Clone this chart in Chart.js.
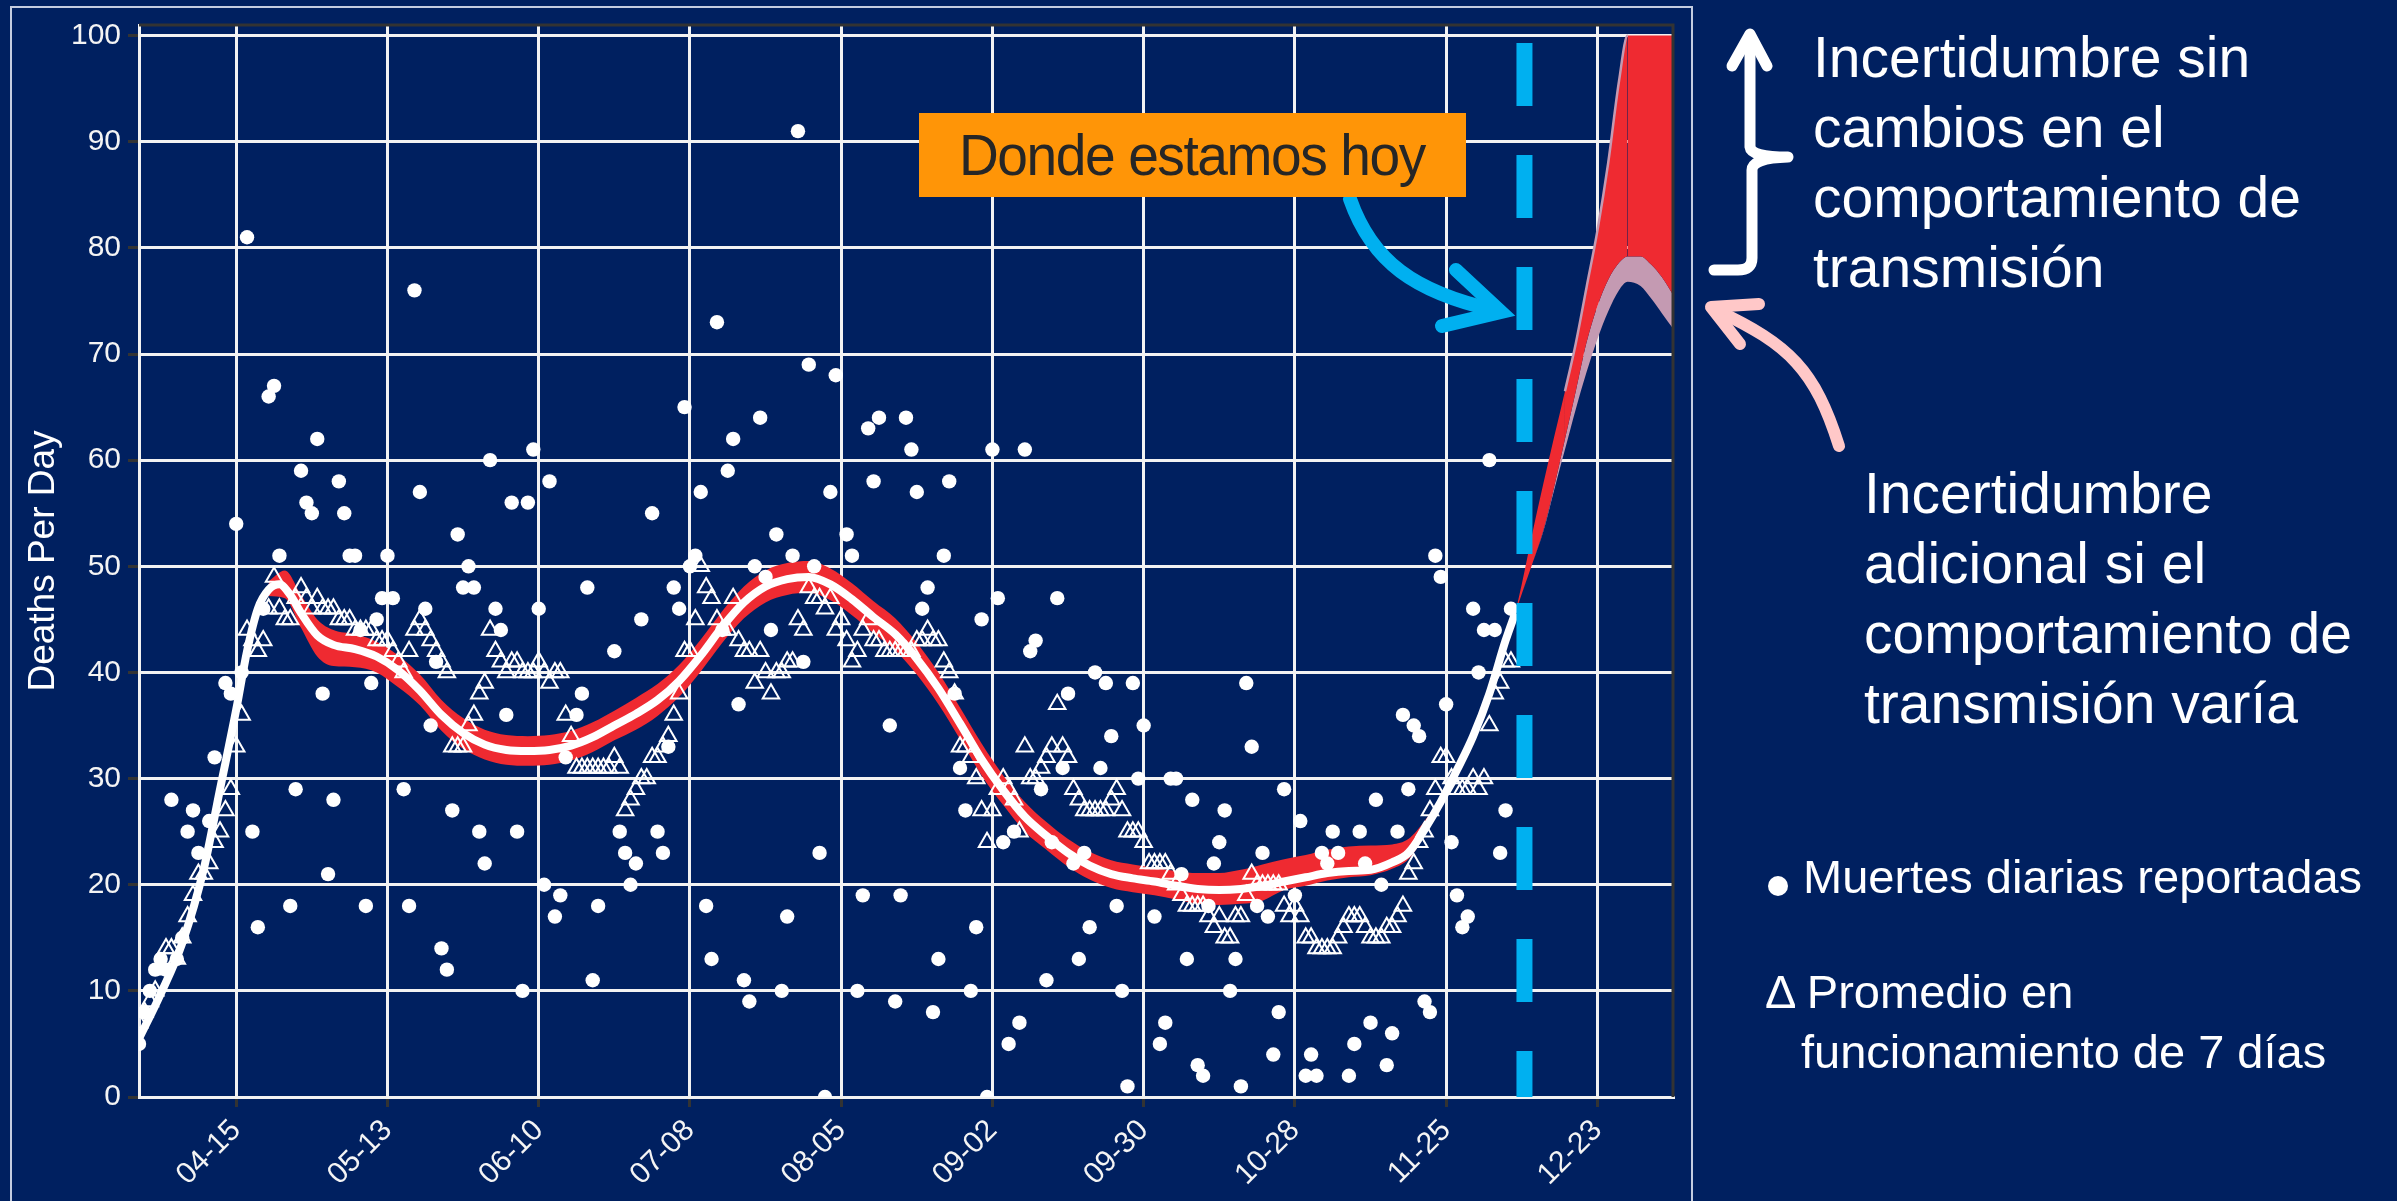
<!DOCTYPE html>
<html>
<head>
<meta charset="utf-8">
<script src="https://cdn.jsdelivr.net/npm/chart.js@4.4.1/dist/chart.umd.min.js"></script>
<style>
  body { margin: 0; background: #002060; }
  #wrap { position: relative; width: 2397px; height: 1201px; overflow: hidden; background: #002060;
          font-family: "Liberation Sans", Arial, sans-serif; color: #ffffff; }
  #frame { position: absolute; left: 10px; top: 6px; width: 1679px; height: 1400px; border: 2px solid #c4cce0; }
  #chartBox { position: absolute; left: 0; top: 0; width: 2397px; height: 1201px; }
  .note { position: absolute; white-space: nowrap; }
  .big { font-size: 57px; line-height: 70px; }
  .legend { font-size: 47px; line-height: 56px; }
  #today { position: absolute; left: 919px; top: 113px; width: 547px; height: 84px; background: #ff9507; }
  #today span { position: absolute; left: 40px; top: 0; line-height: 84px; font-size: 58px; color: #262626;
                letter-spacing: -1.5px; white-space: nowrap; transform: scaleX(0.95); transform-origin: 0 50%; }
</style>
</head>
<body>
<div id="wrap">
  <div id="frame"></div>
  <div id="chartBox"><canvas id="deathsChart"></canvas></div>
  <div id="today"><span>Donde estamos hoy</span></div>
  <div class="note big" style="left:1813px; top:22px;">Incertidumbre sin<br>cambios en el<br>comportamiento de<br>transmisión</div>
  <div class="note big" style="left:1864px; top:458px;">Incertidumbre<br>adicional si el<br>comportamiento de<br>transmisión varía</div>
  <div class="note legend" style="left:1803px; top:849px;">Muertes diarias reportadas</div>
  <div class="note legend" style="left:1765px; top:964px;">Δ Promedio en</div>
  <div class="note legend" style="left:1801px; top:1024px;">funcionamiento de 7 días</div>
</div>
<script>
// day of year 2020 (1 = 01-01); first data day is 03-28
const firstDay = 88;
const tickDays = [106, 134, 162, 190, 218, 246, 274, 302, 330, 358];
const tickLabels = ["04-15", "05-13", "06-10", "07-08", "08-05", "09-02", "09-30", "10-28", "11-25", "12-23"];
const yTicks = [0, 10, 20, 30, 40, 50, 60, 70, 80, 90, 100];
const todayDay = 344.5;

// reported daily deaths, one value per day from firstDay
const dailyDeaths = [
  5, 8, 10, 12, 13, 12, 28, 13, 15, 25,
  27, 23, null, 26, 32, null, 39, 38, 54, 40,
  81, 25, 16, 46, 66, 67, 51, null, 18, 29,
  59, 56, 55, 62, 38, 21, 28, 58, 55, 51,
  51, 44, 18, 39, 45, 47, 51, 47, null, 29,
  18, 76, 57, 46, 35, 41, 14, 12, 27, 53,
  48, 50, 48, 25, 22, 60, 46, 44, 36, 56,
  25, 10, 56, 61, 46, 20, 58, 17, 19, 32,
  null, 36, 38, 48, 11, 18, null, null, 42, 25,
  23, 20, 22, 45, null, 55, 25, 23, 33, 48,
  46, 65, 50, 51, 57, 18, 13, 73, 44, 59,
  62, 37, 11, 9, 50, 64, 49, 44, 53, 10,
  17, 51, 91, 41, 69, 50, 23, 0, 57, 68,
  null, 53, 51, 10, 19, 63, 58, 64, null, 35,
  9, 19, 64, 61, 57, 46, 48, 8, 13, 51,
  58, 38, 31, 27, 10, 16, 45, 0, 61, 47,
  24, 5, 25, 7, 61, 42, 43, 29, 11, 24,
  47, 31, 38, 22, 13, 23, 16, 40, 31, 39,
  34, 18, 10, 1, 39, 30, 35, null, 17, 5,
  7, 30, 30, 21, 13, 28, 3, 2, 18, 22,
  24, 27, 10, 13, 1, 39, 33, 18, 23, 17,
  4, 8, 29, null, 19, 26, 2, 4, 2, 23,
  22, 25, 23, null, 2, 5, 25, 22, 7, 28,
  20, 3, 6, 25, 36, 29, 35, 34, 9, 8,
  51, 49, 37, 24, 19, 16, 17, 46, 40, 44,
  60, 44, 23, 27, 46
];

// 7-day running average, one value per day from firstDay
const weeklyAvg = [
  7, 8, 9, 10, 12, 14, 14, 13, 15, 17,
  19, 21, 21, 22, 24, 25, 27, 29, 33, 36,
  44, 43, 42, 43, 46, 49, 46, 45, 45, 47,
  48, 47, 46, 47, 46, 46, 46, 45, 45, 45,
  44, 44, 44, 44, 43, 43, 43, 42, 41, 40,
  42, 44, 45, 44, 43, 42, 41, 40, 33, 33,
  33, 35, 36, 38, 39, 44, 42, 41, 40, 41,
  41, 40, 40, 40, 41, 40, 39, 40, 40, 36,
  34, 31, 31, 31, 31, 31, 31, 31, 32, 31,
  27, 28, 29, 30, 30, 32, 32, 33, 34, 36,
  38, 42, 42, 45, 50, 48, 47, 45, 44, 44,
  47, 43, 42, 42, 39, 42, 40, 38, 40, 40,
  41, 41, 45, 44, 48, 47, 47, 46, 47, 44,
  45, 43, 41, 42, 44, 45, 43, 43, 42, 42,
  42, 42, 42, 42, 43, 43, 44, 43, 43, 41,
  40, 38, 33, 33, 32, 30, 27, 24, 27, 29,
  30, 29, 28, 25, 33, 30, 30, 31, 32, 33,
  37, 33, 32, 29, 28, 27, 27, 27, 27, 27,
  28, 29, 27, 25, 25, 25, 24, 22, 22, 22,
  22, 21, 20, 19, 18, 18, 18, 18, 17, 16,
  17, 15, 15, 17, 17, 19, 21, 20, 20, 20,
  20, 20, 18, 17, 18, 17, 15, 15, 14, 14,
  14, 14, 15, 16, 17, 17, 17, 16, 15, 15,
  15, 16, 16, 17, 18, 21, 22, 24, 25, 27,
  29, 32, 32, 30, 29, 29, 29, 30, 29, 30,
  35, 38, 39, 41, 41
];

// fitted curve
const fitDays = [88, 92, 96, 100, 103, 106, 108, 110, 112, 114, 116, 118, 121, 124, 128, 132, 136, 140, 144, 148,
  152, 156, 160, 164, 168, 172, 176, 180, 184, 188, 192, 196, 200, 204, 208, 212, 216, 220, 224, 228,
  232, 236, 240, 244, 248, 252, 256, 260, 264, 268, 272, 276, 280, 284, 288, 292, 296, 300, 304, 308,
  312, 316, 320, 323, 326, 329, 332, 335, 338, 341, 342.8];
const fitValues = [5.5, 9.7, 14.5, 21.5, 29, 36.5, 42, 46, 47.8, 48.3, 47.3, 45.6, 43.5, 42.6, 42.2, 41.5, 40.2, 38.3, 36, 34.3,
  33.2, 32.7, 32.6, 32.7, 33.1, 33.9, 35, 36.1, 37.4, 39.2, 41.6, 44.3, 46.6, 48.1, 48.8, 49, 48.3, 46.9, 45.2, 43.6,
  41.3, 38.5, 35.2, 31.8, 28.9, 26.4, 24.6, 23, 21.8, 21, 20.6, 20.3, 19.9, 19.6, 19.5, 19.6, 19.9, 20.3, 20.7, 21.1,
  21.3, 21.4, 22.1, 23, 25.2, 27.8, 30.8, 34, 38, 43, 45.6];

// uncertainty band around the fit
const bandDays = [112, 115, 118, 121, 124, 128, 132, 136, 140, 144, 148, 152, 156, 160, 164, 168, 172, 176, 180, 184,
  188, 192, 196, 200, 204, 208, 212, 216, 220, 224, 228, 232, 236, 240, 244, 248, 252, 256, 260, 264,
  268, 272, 276, 280, 284, 288, 292, 296, 300, 304, 308, 312, 316, 320, 323, 326, 329, 331];
const bandHigh = [48.6, 49.6, 47.3, 45.0, 44.0, 43.6, 42.9, 41.6, 39.8, 37.4, 35.7, 34.6, 34.1, 34.0, 34.1, 34.5, 35.3, 36.4, 37.6, 38.9,
  40.7, 43.1, 45.8, 48.1, 49.6, 50.3, 50.5, 49.8, 48.4, 46.7, 45.1, 42.8, 40.0, 36.7, 33.3, 30.3, 27.8, 25.9, 24.3, 23.1,
  22.3, 21.9, 21.6, 21.3, 21.1, 21.1, 21.4, 21.9, 22.4, 22.8, 23.3, 23.6, 23.7, 23.8, 24.3, 26.0, 28.3, 30.0];
const bandLow = [47.2, 47.0, 44.2, 41.5, 40.6, 40.5, 40.0, 38.6, 36.9, 34.5, 32.8, 31.8, 31.3, 31.2, 31.3, 31.7, 32.5, 33.6, 34.6, 35.9,
  37.7, 40.1, 42.8, 45.1, 46.6, 47.3, 47.5, 46.8, 45.4, 43.7, 42.1, 39.8, 37.0, 33.7, 30.3, 27.5, 25.0, 23.3, 21.7, 20.5,
  19.7, 19.3, 19.0, 18.6, 18.2, 18.1, 18.2, 18.5, 19.5, 19.9, 20.4, 20.7, 20.9, 21.5, 22.4, 24.6, 27.4, 29.6];

// projection after today
const projDays = [342.8, 344, 346, 348, 350, 352, 354, 356, 358, 360, 362, 363.6, 366, 368, 370, 372];
const projHigh = [45.6, 48.3, 53.2, 57.8, 62.2, 66.5, 71, 76.3, 81.6, 88, 95.7, 100, 100, 100, 100, 100];
const projMid = [45.6, 47.4, 50.3, 53.4, 57.5, 62, 66.5, 71.1, 74.5, 77, 78.6, 79.2, 79.2, 78.4, 77.2, 75.6];
const projLow = [45.6, 47.4, 50.3, 53.3, 57.2, 61, 64.8, 68.3, 71.4, 74, 76, 76.8, 76.4, 75.2, 73.8, 72.4];

const RED = "#ef2a31";
const LILAC = "#c49ab2";
const BLUE = "#00b0f0";

const pairs = (days, vals) => days.map((d, i) => ({ x: d, y: vals[i] }));
const daily = (vals) => vals.map((v, i) => ({ x: firstDay + i, y: v })).filter((p) => p.y !== null);

// arrows, brace and panel border
const annotations = {
  id: "annotations",
  afterDraw(chart) {
    const ctx = chart.ctx;
    const area = chart.chartArea;
    ctx.save();
    ctx.strokeStyle = "#333333";
    ctx.lineWidth = 3;
    ctx.beginPath();
    ctx.moveTo(area.left, area.top);
    ctx.lineTo(area.right, area.top);
    ctx.lineTo(area.right, area.bottom);
    ctx.stroke();

    // blue arrow from the label to the dashed line
    ctx.strokeStyle = BLUE;
    ctx.lineWidth = 14;
    ctx.lineCap = "round";
    ctx.lineJoin = "miter";
    ctx.beginPath();
    ctx.moveTo(1350, 199);
    ctx.bezierCurveTo(1372, 262, 1415, 292, 1494, 310);
    ctx.stroke();
    ctx.beginPath();
    ctx.moveTo(1456, 270);
    ctx.lineTo(1501, 312);
    ctx.lineTo(1442, 326);
    ctx.stroke();

    // white arrow with brace
    ctx.strokeStyle = "#ffffff";
    ctx.lineWidth = 11;
    ctx.lineJoin = "round";
    ctx.beginPath();
    ctx.moveTo(1750, 40);
    ctx.lineTo(1750, 147);
    ctx.quadraticCurveTo(1751, 157, 1788, 157);
    ctx.moveTo(1788, 157);
    ctx.quadraticCurveTo(1752, 158, 1752, 170);
    ctx.lineTo(1752, 258);
    ctx.quadraticCurveTo(1752, 270, 1738, 270);
    ctx.lineTo(1714, 270);
    ctx.stroke();
    ctx.beginPath();
    ctx.moveTo(1732, 66);
    ctx.lineTo(1750, 34);
    ctx.lineTo(1767, 66);
    ctx.stroke();

    // pink arrow
    ctx.strokeStyle = "#ffc8c8";
    ctx.lineWidth = 12;
    ctx.beginPath();
    ctx.moveTo(1839, 446);
    ctx.bezierCurveTo(1815, 370, 1790, 345, 1716, 310);
    ctx.stroke();
    ctx.beginPath();
    ctx.moveTo(1740, 344);
    ctx.lineTo(1711, 307);
    ctx.lineTo(1759, 304);
    ctx.stroke();

    // legend bullet
    ctx.fillStyle = "#ffffff";
    ctx.beginPath();
    ctx.arc(1778, 886, 10, 0, Math.PI * 2);
    ctx.fill();
    ctx.restore();
  },
};

new Chart(document.getElementById("deathsChart"), {
  type: "line",
  data: {
    datasets: [
      {
        label: "Hoy",
        data: [{ x: todayDay, y: 99.3 }, { x: todayDay, y: 0 }],
        borderColor: BLUE,
        borderWidth: 16,
        borderDash: [63, 49],
        borderCapStyle: "butt",
        pointRadius: 0,
        order: 0,
      },
      {
        label: "Ajuste",
        data: pairs(fitDays, fitValues),
        borderColor: "#ffffff",
        borderWidth: 8,
        cubicInterpolationMode: "monotone",
        pointRadius: 0,
        order: 1,
      },
      {
        label: "Muertes diarias reportadas",
        data: daily(dailyDeaths),
        showLine: false,
        pointRadius: 7.2,
        pointBackgroundColor: "#ffffff",
        pointBorderWidth: 0,
        order: 2,
      },
      {
        label: "Promedio 7 días",
        data: daily(weeklyAvg),
        showLine: false,
        pointStyle: "triangle",
        pointRadius: 9.5,
        pointBorderColor: "#ffffff",
        pointBackgroundColor: "rgba(0,0,0,0)",
        pointBorderWidth: 2,
        order: 3,
      },
      {
        label: "Banda alta",
        data: pairs(bandDays, bandHigh),
        borderWidth: 0,
        borderColor: RED,
        backgroundColor: RED,
        cubicInterpolationMode: "monotone",
        pointRadius: 0,
        fill: "+1",
        order: 4,
      },
      {
        label: "Banda baja",
        data: pairs(bandDays, bandLow),
        borderWidth: 0,
        borderColor: RED,
        cubicInterpolationMode: "monotone",
        pointRadius: 0,
        fill: false,
        order: 4,
      },
      {
        label: "Proyección alta",
        data: pairs(projDays, projHigh),
        borderWidth: 2.5,
        borderColor: LILAC,
        segment: {
          borderColor: (c) => (c.p0.parsed.y >= 99.9 || c.p0.parsed.x < 352 ? "rgba(0,0,0,0)" : LILAC),
        },
        backgroundColor: RED,
        cubicInterpolationMode: "monotone",
        pointRadius: 0,
        fill: "+1",
        order: 5,
      },
      {
        label: "Proyección media",
        data: pairs(projDays, projMid),
        borderWidth: 0,
        borderColor: RED,
        backgroundColor: LILAC,
        cubicInterpolationMode: "monotone",
        pointRadius: 0,
        fill: "+1",
        order: 5,
      },
      {
        label: "Proyección baja",
        data: pairs(projDays, projLow),
        borderWidth: 0,
        borderColor: LILAC,
        cubicInterpolationMode: "monotone",
        pointRadius: 0,
        fill: false,
        order: 5,
      },
    ],
  },
  options: {
    responsive: true,
    maintainAspectRatio: false,
    animation: false,
    events: [],
    layout: { padding: { left: 0, top: 24, right: 724, bottom: 0 } },
    plugins: { legend: { display: false }, tooltip: { enabled: false } },
    scales: {
      x: {
        type: "linear",
        min: 88,
        max: 372,
        afterBuildTicks: (scale) => { scale.ticks = tickDays.map((v) => ({ value: v })); },
        afterFit: (scale) => { scale.height = 104; },
        ticks: {
          autoSkip: false,
          minRotation: 45,
          maxRotation: 45,
          padding: 6,
          color: "#f4f4f4",
          font: { family: "Liberation Sans", size: 30 },
          callback: (v) => tickLabels[tickDays.indexOf(v)],
        },
        grid: { color: "#f2f2f2", lineWidth: 3, tickColor: "#333333", tickLength: 10, tickWidth: 3 },
        border: { color: "#f2f2f2", width: 3 },
      },
      y: {
        min: 0,
        max: 101,
        afterBuildTicks: (scale) => { scale.ticks = yTicks.map((v) => ({ value: v })); },
        afterFit: (scale) => { scale.width = 139; },
        ticks: {
          padding: 7,
          color: "#f4f4f4",
          font: { family: "Liberation Sans", size: 30 },
        },
        grid: { color: "#f2f2f2", lineWidth: 3, tickColor: "#333333", tickLength: 11, tickWidth: 3 },
        border: { color: "#f2f2f2", width: 3 },
        title: {
          display: true,
          text: "Deaths Per Day",
          color: "#ffffff",
          font: { family: "Liberation Sans", size: 37 },
          padding: { top: 22, bottom: 0 },
        },
      },
    },
  },
  plugins: [annotations],
});
</script>
</body>
</html>
